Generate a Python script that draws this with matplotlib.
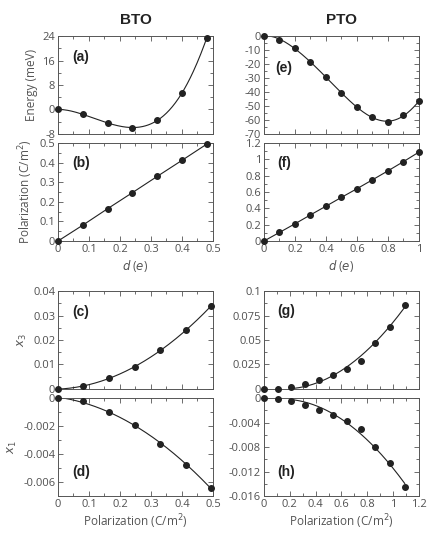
import numpy as np
import matplotlib
matplotlib.use("Agg")
import matplotlib.pyplot as plt
from matplotlib.ticker import MultipleLocator

# ---- data ----
# BTO
d_bto = [0, 0.08, 0.16, 0.24, 0.32, 0.40, 0.48]
energy_bto = [0, -1.6, -4.4, -5.9, -3.6, 5.4, 23.4]
pol_bto = [0, 0.081, 0.165, 0.247, 0.33, 0.412, 0.495]
x3_bto = [0, 0.0011, 0.0045, 0.0089, 0.0158, 0.024, 0.034]
x1_bto = [0, -0.00024, -0.001, -0.0019, -0.00326, -0.00479, -0.00643]

# PTO
d_pto = [0, 0.1, 0.2, 0.3, 0.4, 0.5, 0.6, 0.7, 0.8, 0.9, 1.0]
energy_pto = [0, -2.5, -8.6, -18.7, -29.6, -40.7, -50.6, -58.1, -61.4, -56.7, -46.6]
pol_pto = [0, 0.105, 0.211, 0.32, 0.427, 0.535, 0.641, 0.75, 0.86, 0.973, 1.09]
x3_pto = [0, 0.0003, 0.0017, 0.0055, 0.0096, 0.0144, 0.0206, 0.0289, 0.0474, 0.0636, 0.0859]
x1_pto = [0, -0.0001, -0.0004, -0.0012, -0.0019, -0.0028, -0.0037, -0.005, -0.008, -0.0106, -0.0145]

dark = "#222222"
grey = "#555555"

plt.rcParams["font.family"] = ["Open Sans", "DejaVu Sans"]
plt.rcParams["font.size"] = 8
plt.rcParams["axes.unicode_minus"] = False
plt.rcParams["axes.edgecolor"] = grey
plt.rcParams["xtick.color"] = grey
plt.rcParams["ytick.color"] = grey
plt.rcParams["xtick.labelcolor"] = "#505050"
plt.rcParams["ytick.labelcolor"] = "#505050"

fig = plt.figure(figsize=(4.37, 5.38), dpi=100)

W = 0.3547
H = 0.182
cols = [0.1327, 0.604]
rows = [0.751, 0.552, 0.277, 0.078]


def make_ax(col, row):
    ax = fig.add_axes([cols[col], rows[row], W, H])
    ax.tick_params(which="both", direction="in", top=True, right=True, width=0.6, pad=2)
    ax.tick_params(which="major", length=3.5)
    ax.tick_params(which="minor", length=2)
    for s in ax.spines.values():
        s.set_linewidth(0.7)
    return ax


def points(ax, x, y):
    ax.plot(x, y, "o", color=dark, markersize=4, zorder=3, clip_on=False)


def fit_line(ax, x, y, deg, x0=None, x1=None):
    c = np.polyfit(x, y, deg)
    xs = np.linspace(x[0] if x0 is None else x0, x[-1] if x1 is None else x1, 200)
    ax.plot(xs, np.polyval(c, xs), color=dark, lw=0.8)


def label(ax, text, x, y):
    ax.text(x, y, text, transform=ax.transAxes, ha="left", va="center",
            fontsize=10, fontweight="bold", family="Liberation Sans", color=dark)


ylab = dict(color=grey, labelpad=3, fontsize=8.5)
xlab = dict(color=grey, labelpad=2, fontsize=8.5)

# (a)
ax = make_ax(0, 0)
fit_line(ax, d_bto, energy_bto, 6)
points(ax, d_bto, energy_bto)
ax.set_xlim(0, 0.5)
ax.set_ylim(-8, 24)
ax.set_yticks([-8, 0, 8, 16, 24])
ax.yaxis.set_minor_locator(MultipleLocator(4))
ax.xaxis.set_major_locator(MultipleLocator(0.1))
ax.xaxis.set_minor_locator(MultipleLocator(0.05))
ax.set_xticklabels([])
ax.set_ylabel("Energy (meV)", **ylab)
label(ax, "(a)", 0.09, 0.79)
ax.set_title("BTO", fontsize=11, fontweight="bold", family="Liberation Sans", color=dark, pad=9)

# (b)
ax = make_ax(0, 1)
ax.plot(d_bto, pol_bto, color=dark, lw=0.8)
points(ax, d_bto, pol_bto)
ax.set_xlim(0, 0.5)
ax.set_ylim(0, 0.5)
ax.xaxis.set_minor_locator(MultipleLocator(0.05))
ax.yaxis.set_minor_locator(MultipleLocator(0.05))
ax.set_xticks([0, 0.1, 0.2, 0.3, 0.4, 0.5], ["0", "0.1", "0.2", "0.3", "0.4", "0.5"])
ax.set_yticks([0, 0.1, 0.2, 0.3, 0.4, 0.5], ["0", "0.1", "0.2", "0.3", "0.4", "0.5"])
ax.set_xlabel("$d$ ($e$)", **xlab)
ax.set_ylabel("Polarization (C/m$^2$)", **ylab)
label(ax, "(b)", 0.09, 0.8)

# (c)
ax = make_ax(0, 2)
fit_line(ax, pol_bto, x3_bto, 2)
points(ax, pol_bto, x3_bto)
ax.set_xlim(0, 0.5)
ax.set_ylim(0, 0.04)
ax.set_yticks([0, 0.01, 0.02, 0.03, 0.04], ["0", "0.01", "0.02", "0.03", "0.04"])
ax.yaxis.set_minor_locator(MultipleLocator(0.005))
ax.xaxis.set_major_locator(MultipleLocator(0.1))
ax.xaxis.set_minor_locator(MultipleLocator(0.05))
ax.set_xticklabels([])
ax.set_ylabel("$x_3$", **ylab)
label(ax, "(c)", 0.09, 0.79)

# (d)
ax = make_ax(0, 3)
fit_line(ax, pol_bto, x1_bto, 2)
points(ax, pol_bto, x1_bto)
ax.set_xlim(0, 0.5)
ax.set_ylim(-0.007, 0)
ax.set_yticks([-0.006, -0.004, -0.002, 0], ["-0.006", "-0.004", "-0.002", "0"])
ax.yaxis.set_minor_locator(MultipleLocator(0.001))
ax.set_xticks([0, 0.1, 0.2, 0.3, 0.4, 0.5], ["0", "0.1", "0.2", "0.3", "0.4", "0.5"])
ax.xaxis.set_minor_locator(MultipleLocator(0.05))
ax.set_xlabel("Polarization (C/m$^2$)", **xlab)
ax.set_ylabel("$x_1$", **ylab)
label(ax, "(d)", 0.09, 0.245)

# (e)
ax = make_ax(1, 0)
fit_line(ax, d_pto, energy_pto, 6)
points(ax, d_pto, energy_pto)
ax.set_xlim(0, 1)
ax.set_ylim(-70, 0)
ax.yaxis.set_major_locator(MultipleLocator(10))
ax.yaxis.set_minor_locator(MultipleLocator(5))
ax.xaxis.set_major_locator(MultipleLocator(0.2))
ax.xaxis.set_minor_locator(MultipleLocator(0.1))
ax.set_xticklabels([])
label(ax, "(e)", 0.07, 0.67)
ax.set_title("PTO", fontsize=11, fontweight="bold", family="Liberation Sans", color=dark, pad=9)

# (f)
ax = make_ax(1, 1)
ax.plot(d_pto, pol_pto, color=dark, lw=0.8)
points(ax, d_pto, pol_pto)
ax.set_xlim(0, 1)
ax.set_ylim(0, 1.2)
ax.set_xticks([0, 0.2, 0.4, 0.6, 0.8, 1], ["0", "0.2", "0.4", "0.6", "0.8", "1"])
ax.set_yticks([0, 0.2, 0.4, 0.6, 0.8, 1, 1.2], ["0", "0.2", "0.4", "0.6", "0.8", "1", "1.2"])
ax.xaxis.set_minor_locator(MultipleLocator(0.1))
ax.yaxis.set_minor_locator(MultipleLocator(0.1))
ax.set_xlabel("$d$ ($e$)", **xlab)
label(ax, "(f)", 0.085, 0.8)

# (g)
ax = make_ax(1, 2)
fit_line(ax, pol_pto, x3_pto, 2, x0=0.2)
points(ax, pol_pto, x3_pto)
ax.set_xlim(0, 1.2)
ax.set_ylim(0, 0.1)
ax.set_yticks([0, 0.025, 0.05, 0.075, 0.1], ["0", "0.025", "0.05", "0.075", "0.1"])
ax.yaxis.set_minor_locator(MultipleLocator(0.0125))
ax.xaxis.set_major_locator(MultipleLocator(0.2))
ax.xaxis.set_minor_locator(MultipleLocator(0.1))
ax.set_xticklabels([])
label(ax, "(g)", 0.085, 0.8)

# (h)
ax = make_ax(1, 3)
fit_line(ax, pol_pto, x1_pto, 2, x0=0.2)
points(ax, pol_pto, x1_pto)
ax.set_xlim(0, 1.2)
ax.set_ylim(-0.016, 0)
ax.set_yticks([-0.016, -0.012, -0.008, -0.004, 0], ["-0.016", "-0.012", "-0.008", "-0.004", "0"])
ax.yaxis.set_minor_locator(MultipleLocator(0.002))
ax.set_xticks([0, 0.2, 0.4, 0.6, 0.8, 1, 1.2], ["0", "0.2", "0.4", "0.6", "0.8", "1", "1.2"])
ax.xaxis.set_minor_locator(MultipleLocator(0.1))
ax.set_xlabel("Polarization (C/m$^2$)", **xlab)
label(ax, "(h)", 0.085, 0.245)

fig.savefig("out.png", dpi=100)
